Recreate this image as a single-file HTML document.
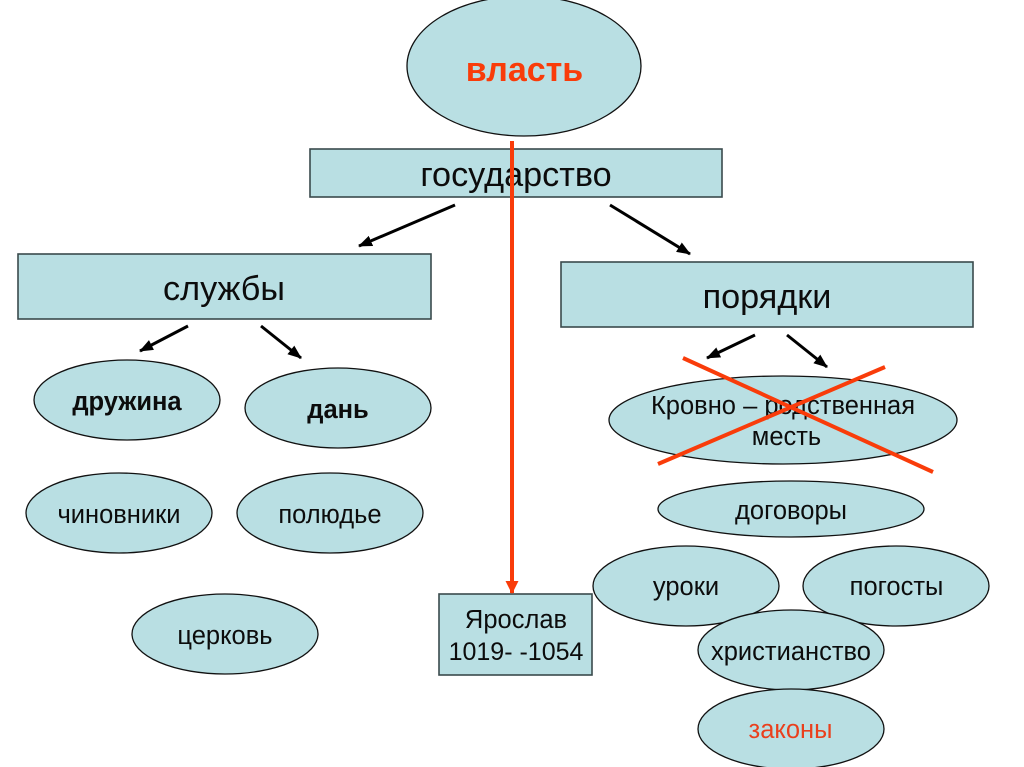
<!DOCTYPE html>
<html><head><meta charset="utf-8"><style>
html,body{margin:0;padding:0;background:#fff}
svg{display:block}
text{font-family:"Liberation Sans",sans-serif;text-anchor:middle;fill:#0c0c0c}
.s{fill:#b9dfe3;stroke:#111;stroke-width:1.3}
.b{fill:#b9dfe3;stroke:#3a4a4c;stroke-width:1.6}
</style></head><body>
<svg width="1024" height="767" viewBox="0 0 1024 767" xmlns="http://www.w3.org/2000/svg">
<defs>
<marker id="a" markerUnits="userSpaceOnUse" markerWidth="15" markerHeight="11" refX="13" refY="5.5" orient="auto"><path d="M0 0L14 5.5L0 11Z" fill="#000"/></marker>
<marker id="r" markerUnits="userSpaceOnUse" markerWidth="14" markerHeight="14" refX="12" refY="7" orient="auto"><path d="M0 0.5L13 7L0 13.5Z" fill="#f93c0a"/></marker>
</defs>
<ellipse class="s" cx="524" cy="66" rx="117" ry="70"/>
<text x="524.5" y="81" font-size="34" font-weight="bold" style="fill:#f93c0a">власть</text>
<rect class="b" x="310" y="149" width="412" height="48"/>
<text x="516" y="186" font-size="34.2">государство</text>
<rect class="b" x="18" y="254" width="413" height="65"/>
<text x="224" y="300" font-size="34.2">службы</text>
<rect class="b" x="561" y="262" width="412" height="65"/>
<text x="767" y="308" font-size="34.2">порядки</text>
<g stroke="#000" stroke-width="3" fill="none">
<line x1="455" y1="205" x2="359" y2="246" marker-end="url(#a)"/>
<line x1="610" y1="205" x2="690" y2="254" marker-end="url(#a)"/>
<line x1="188" y1="326" x2="140" y2="351" marker-end="url(#a)"/>
<line x1="261" y1="326" x2="301" y2="358" marker-end="url(#a)"/>
<line x1="755" y1="335" x2="707" y2="358" marker-end="url(#a)"/>
<line x1="787" y1="335" x2="827" y2="367" marker-end="url(#a)"/>
</g>
<ellipse class="s" cx="127" cy="400" rx="93" ry="40"/>
<text x="127" y="410" font-size="25.5" font-weight="bold">дружина</text>
<ellipse class="s" cx="338" cy="408" rx="93" ry="40"/>
<text x="338" y="418" font-size="25.5" font-weight="bold">дань</text>
<ellipse class="s" cx="119" cy="513" rx="93" ry="40"/>
<text x="119" y="523" font-size="25.5">чиновники</text>
<ellipse class="s" cx="330" cy="513" rx="93" ry="40"/>
<text x="330" y="523" font-size="25.5">полюдье</text>
<ellipse class="s" cx="225" cy="634" rx="93" ry="40"/>
<text x="225" y="644" font-size="25.5">церковь</text>
<ellipse class="s" cx="783" cy="420" rx="174" ry="44"/>
<text x="783" y="414" font-size="25.5">Кровно – родственная</text>
<text x="786.5" y="445" font-size="25.5">месть</text>
<ellipse class="s" cx="791" cy="509" rx="133" ry="28"/>
<text x="791" y="519" font-size="25.5">договоры</text>
<ellipse class="s" cx="686" cy="586" rx="93" ry="40"/>
<text x="686" y="595" font-size="25.5">уроки</text>
<ellipse class="s" cx="896" cy="586" rx="93" ry="40"/>
<text x="896.5" y="595" font-size="25.5">погосты</text>
<ellipse class="s" cx="791" cy="650" rx="93" ry="40"/>
<text x="791" y="660" font-size="25.5">христианство</text>
<ellipse class="s" cx="791" cy="729" rx="93" ry="40"/>
<text x="790.5" y="738" font-size="25.5" style="fill:#ea3f1c">законы</text>
<rect class="b" x="439" y="594" width="153" height="81"/>
<text x="516" y="628" font-size="25.5">Ярослав</text>
<text x="516" y="660" font-size="25">1019- -1054</text>
<line x1="512" y1="141" x2="512" y2="593" stroke="#f93c0a" stroke-width="4" marker-end="url(#r)"/>
<line x1="683" y1="358" x2="933" y2="472" stroke="#f93c0a" stroke-width="4"/>
<line x1="885" y1="367" x2="658" y2="464" stroke="#f93c0a" stroke-width="4"/>
</svg>
</body></html>
